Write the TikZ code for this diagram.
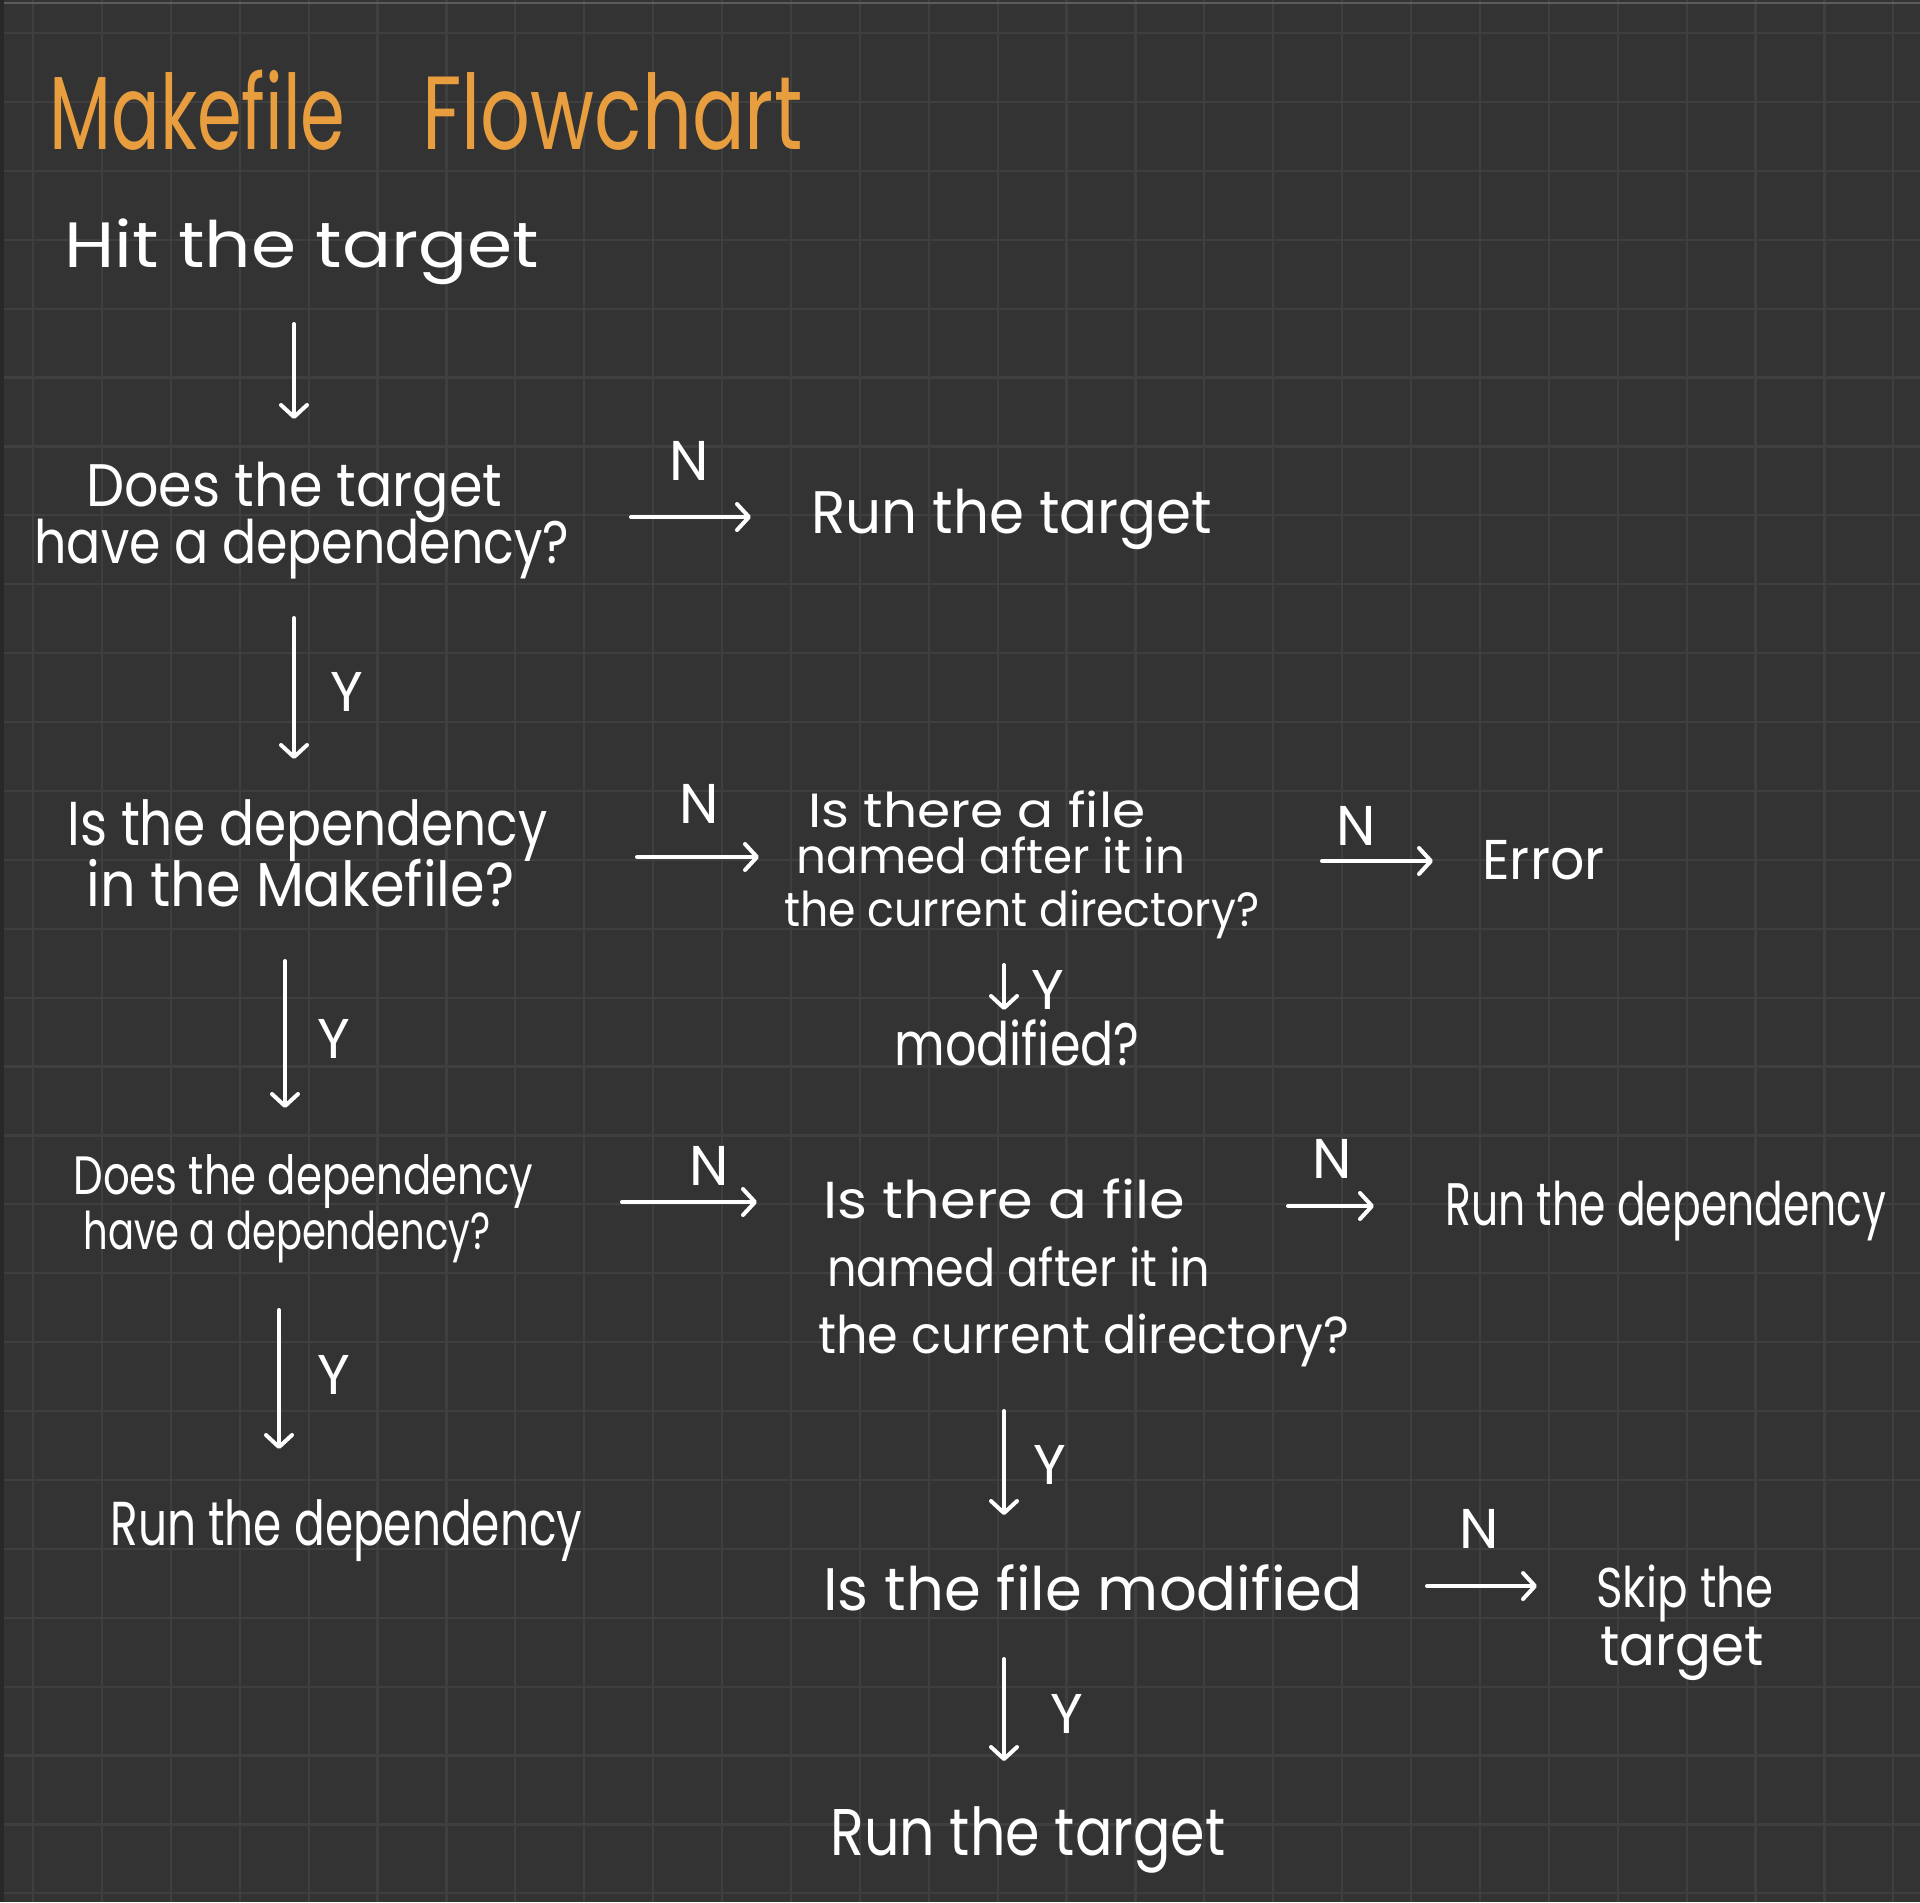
\documentclass[tikz,border=0pt]{standalone}
\usepackage{fontspec}
\setmainfont{Poppins}
\usetikzlibrary{arrows.meta}
\newlength\pxu \setlength\pxu{0.5pt}
\newcommand{\fw}[2]{\resizebox{#1\pxu}{\height}{#2}}
\definecolor{bgc}{RGB}{51,51,51}
\definecolor{gridc}{RGB}{63,63,63}
\definecolor{edgec}{RGB}{92,92,92}
\definecolor{darkc}{RGB}{40,40,40}
\definecolor{ttl}{RGB}{232,158,62}
\begin{document}
\begin{tikzpicture}[x=0.5pt,y=-0.5pt,
  txt/.style={text=white,inner sep=0pt,anchor=base west,font=\fontsize{#1}{#1}\selectfont},
  txt/.default=31,
  ttlstyle/.style={text=ttl,inner sep=0pt,anchor=base west,font=\fontsize{52}{60}\selectfont},
  lab/.style={text=white,inner sep=0pt,font=\fontsize{28}{30}\selectfont},
  arr/.style={draw=white,line width=2pt,line cap=round,-{Straight Barb[length=6pt,width=13pt,round]}},
  gridline/.style={draw=gridc,line width=1.1pt}
]
\useasboundingbox (0,0) rectangle (1920,1902);
\fill[bgc] (0,0) rectangle (1920,1902);
\foreach \i in {0,...,27} {
  \draw[gridline] ({33+68.9*\i},0) -- ({33+68.9*\i},1902);
  \draw[gridline] (0,{33+68.9*\i}) -- (1920,{33+68.9*\i});
}
\fill[darkc] (0,0) rectangle (4,1902);
\draw[edgec,line width=1pt] (4,3) -- (1920,3);

% title
\node[ttlstyle] (t1) at (49,149) {\fw{296}{Makefile}};
\node[ttlstyle] (t2) at (422,149) {\fw{380}{Flowchart}};

% texts
\node[txt=32] (hit) at (64,267) {\fw{475}{Hit the target}};
\node[txt=30] (q1a) at (86,506) {\fw{416}{Does the target}};
\node[txt=30] (q1b) at (34,563) {\fw{535}{have a dependency?}};
\node[txt=30] (run1) at (811,533) {\fw{401}{Run the target}};
\node[txt=31] (q2a) at (67,845) {\fw{480}{Is the dependency}};
\node[txt=31] (q2b) at (86,906) {\fw{428}{in the Makefile?}};
\node[txt=24] (f1a) at (808,827) {\fw{337}{Is there a file}};
\node[txt=24] (f1b) at (796,873) {\fw{389}{named after it in}};
\node[txt=24] (f1c) at (784,926) {\fw{475}{the current directory?}};
\node[txt=28] (err) at (1482,879) {\fw{122}{Error}};
\node[txt=30] (mod1) at (894,1065) {\fw{245}{modified?}};
\node[txt=27] (q3a) at (73,1194) {\fw{460}{Does the dependency}};
\node[txt=26] (q3b) at (83,1249) {\fw{407}{have a dependency?}};
\node[txt=26] (f2a) at (823,1218) {\fw{362}{Is there a file}};
\node[txt=26] (f2b) at (827,1286) {\fw{383}{named after it in}};
\node[txt=26] (f2c) at (818,1353) {\fw{531}{the current directory?}};
\node[txt=30] (rdep2) at (1445,1225) {\fw{441}{Run the dependency}};
\node[txt=31] (rdep1) at (110,1545) {\fw{472}{Run the dependency}};
\node[txt=30] (fm) at (823,1610) {\fw{539}{Is the file modified}};
\node[txt=28] (skip1) at (1596,1607) {\fw{177}{Skip the}};
\node[txt=28] (skip2) at (1600,1665) {\fw{163}{target}};
\node[txt=33] (run2) at (830,1855) {\fw{395}{Run the target}};

% labels
\node[lab] (n1) at (689,461) {N};
\node[lab] (n2) at (699,804) {N};
\node[lab] (n3) at (1356,826) {N};
\node[lab] (n4) at (709,1166) {N};
\node[lab] (n5) at (1332,1159) {N};
\node[lab] (n6) at (1479,1529) {N};
\node[lab] (y1) at (347,692) {Y};
\node[lab] (y2) at (1048,990) {Y};
\node[lab] (y3) at (334,1039) {Y};
\node[lab] (y4) at (334,1375) {Y};
\node[lab] (y5) at (1050,1465) {Y};
\node[lab] (y6) at (1067,1714) {Y};

% connectors
\draw[arr] ([shift={(230,57)}]hit.base west) -- ([shift={(208,-87)}]q1a.base west);
\draw[arr] ([shift={(597,-46)}]q1b.base west) -- ([shift={(-60,-16)}]run1.base west);
\draw[arr] ([shift={(260,55)}]q1b.base west) -- ([shift={(227,-86)}]q2a.base west);
\draw[arr] ([shift={(551,-49)}]q2b.base west) -- ([shift={(-37,-16)}]f1b.base west);
\draw[arr] ([shift={(526,-12)}]f1b.base west) -- ([shift={(-49,-18)}]err.base west);
\draw[arr] ([shift={(220,39)}]f1c.base west) -- ([shift={(110,-55)}]mod1.base west);
\draw[arr] ([shift={(199,55)}]q2b.base west) -- ([shift={(212,-86)}]q3a.base west);
\draw[arr] ([shift={(549,8)}]q3a.base west) -- ([shift={(-66,-16)}]f2a.base west);
\draw[arr] ([shift={(465,-12)}]f2a.base west) -- ([shift={(-71,-19)}]rdep2.base west);
\draw[arr] ([shift={(196,61)}]q3b.base west) -- ([shift={(169,-96)}]rdep1.base west);
\draw[arr] ([shift={(186,58)}]f2c.base west) -- ([shift={(181,-95)}]fm.base west);
\draw[arr] ([shift={(604,-24)}]fm.base west) -- ([shift={(-59,-21)}]skip1.base west);
\draw[arr] ([shift={(181,49)}]fm.base west) -- ([shift={(174,-94)}]run2.base west);
\end{tikzpicture}
\end{document}
